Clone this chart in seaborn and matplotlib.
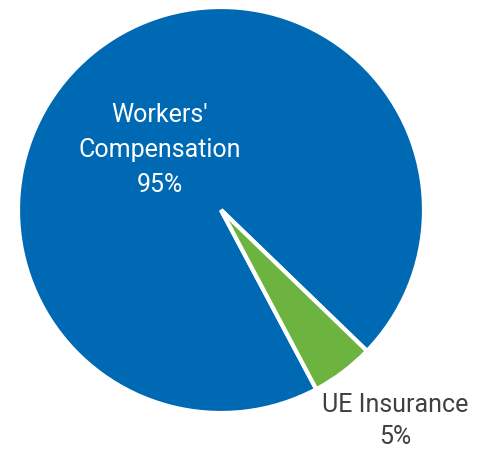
import matplotlib
matplotlib.use("Agg")
import matplotlib.pyplot as plt
import seaborn as sns

categories = ["Workers'\nCompensation", "UE Insurance"]
shares = [95, 5]
colors = ["#0069b4", "#6db33f"]

sns.set_theme(style="white")
plt.rcParams["font.family"] = ["Roboto", "DejaVu Sans"]

fig = plt.figure(figsize=(4.89, 4.5), dpi=100)
ax = fig.add_axes([0, 0, 1, 1])

ax.pie(shares, colors=colors, startangle=-44, counterclock=True,
       center=(221, 240), radius=203,
       wedgeprops=dict(edgecolor="white", linewidth=3))

# pie() resets the limits, so fix them afterwards
ax.set_xlim(0, 489)
ax.set_ylim(0, 450)
ax.set_aspect("equal")
ax.axis("off")

labels = [f"{c}\n{v}%" for c, v in zip(categories, shares)]
ax.text(160, 300, labels[0], ha="center", va="center", color="white",
        fontsize=18, linespacing=1.58)
ax.text(395, 29, labels[1], ha="center", va="center", color="#404040",
        fontsize=18, linespacing=1.45)

fig.savefig("out.png", dpi=100)
